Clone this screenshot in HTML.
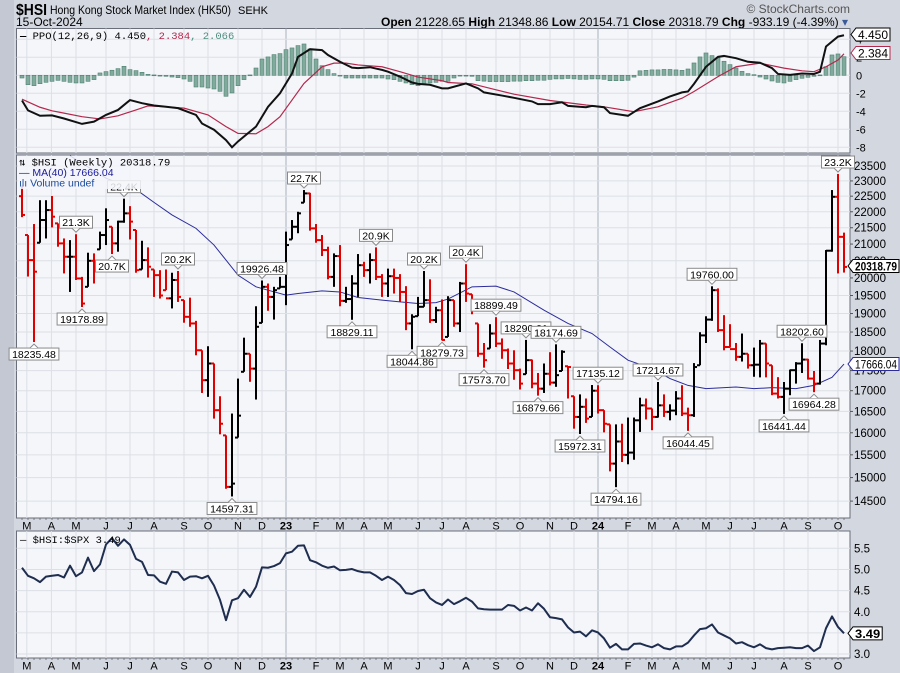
<!DOCTYPE html>
<html><head><meta charset="utf-8">
<style>
html,body{margin:0;padding:0;background:#d3d7e0;}
svg{display:block;font-family:"Liberation Sans",sans-serif;}
.mono{font-family:"Liberation Mono","DejaVu Sans Mono",monospace;}
</style></head>
<body>
<svg id="chart" width="900" height="673" viewBox="0 0 900 673" xmlns="http://www.w3.org/2000/svg">
  <rect x="0" y="0" width="900" height="673" fill="#d3d7e0"/>
  <rect x="0" y="0" width="14" height="673" fill="#c3c8d3"/>
  <g>
    <text x="16" y="15" font-size="16" font-weight="bold" textLength="31" lengthAdjust="spacingAndGlyphs" fill="#000">$HSI</text>
    <text x="50" y="14" font-size="12" textLength="181" lengthAdjust="spacingAndGlyphs" fill="#000">Hong Kong Stock Market Index (HK50)</text>
    <text x="238" y="14" font-size="11" fill="#000">SEHK</text>
    <text x="16" y="26" font-size="12" fill="#000">15-Oct-2024</text>
    <text x="848" y="26" font-size="12" text-anchor="end" fill="#000"><tspan font-weight="bold">Open</tspan> 21228.65 <tspan font-weight="bold">High</tspan> 21348.86 <tspan font-weight="bold">Low</tspan> 20154.71 <tspan font-weight="bold">Close</tspan> 20318.79 <tspan font-weight="bold">Chg</tspan> -933.19 (-4.39%) <tspan fill="#3a5a9a">▾</tspan></text>
    <text x="850" y="13" font-size="12" text-anchor="end" fill="#555">© StockCharts.com</text>
  </g>
  <g id="ppoPanel"></g>
  <g id="pricePanel"></g>
  <g id="ratioPanel"></g>
  <g id="axes"></g>
</svg>
<script>
// ---------- DATA ----------
const highs = [22850,21275,21615,22370,22370,22505,21635,21170,21120,21300,
20030,20740,20720,21380,22110,21530,21720,22420,22180,21430,
21100,20900,20245,20225,20245,20150,20200,19370,19440,18800,
18020,18125,17680,16865,15940,16450,17300,18350,17930,19200,
19926,19840,19745,20030,21380,21740,22000,22700,22610,21615,
21275,20920,20720,20970,19745,20080,20700,20470,20720,20900,
20110,20270,20270,20110,19764,18980,19460,20200,19960,19185,
19390,19480,
19370,19885,20400,19535,18730,18210,18710,18900,18330,18065,
18020,17550,18291,17780,17440,17680,17970,18175,18020,17610,
16865,16910,16810,17140,17135,16530,16195,16195,16210,16355,
16355,16830,16810,16570,17215,16910,16670,16990,17135,16590,
17690,18495,18925,19760,19700,18955,18710,18210,18460,17930,
18090,18290,18200,17635,17335,17215,17525,17715,18203,17800,
17490,18290,20820,22700,23230,21349];
const lows = [21830,20040,18235,21040,21170,21510,20920,20130,19600,19940,
19179,19745,19840,20840,20970,20700,20770,21655,21140,20150,
20245,20010,19460,19415,19650,19140,19320,18750,18640,17890,
16945,16850,16330,15965,14760,14597,15890,17470,17220,16785,
18745,19075,18835,19700,19230,21140,21330,22290,21410,21040,
20640,19960,19745,19200,19295,18829,19460,20030,19840,19940,
19460,19460,19555,19320,18550,18045,18927,19185,18745,18745,
18280,18370,
18640,18500,19320,18980,17850,17574,18065,18105,17800,17540,
17270,17030,17410,17060,16880,16945,17130,17095,17490,16810,
16095,15972,16230,16370,16450,16010,15135,14794,15340,15290,
15390,16020,16310,16060,16355,16370,16290,16410,16390,16044,
16370,17635,18210,18800,18500,18020,18090,17750,17730,17550,
17345,17330,17330,16890,16810,16441,16890,17175,17440,17275,
16964,17150,18150,20770,20130,20155];
const closes = [21900,20520,20180,21740,22055,21845,21020,20620,20620,19985,
19275,20500,20200,21275,21740,21020,21690,21950,21690,20225,
20520,20325,20080,19500,19420,19940,19460,18910,18730,18020,
17260,17680,16530,16210,14800,14870,16400,17930,17550,18640,
19745,19460,19650,19745,20970,21530,21950,22590,21480,21120,
20820,20030,20640,19350,19400,19840,20370,20225,20520,20030,
19840,20050,20000,19600,18730,18910,19185,19370,18820,19090,
18290,19370,
18730,19840,19555,19090,17930,17765,18460,18195,18020,17680,
17510,17175,17765,17175,17050,17420,17200,17385,17980,17590,
16370,16610,16330,17000,16530,16210,15305,15800,15500,15550,
16290,16645,16570,16370,16645,16490,16520,16810,16450,16410,
17590,18410,18835,19650,18550,18105,18050,17850,17930,17635,
17650,18195,17680,16930,16850,17050,17510,17680,17780,17300,
17175,18195,20800,22480,21220,20318.79];
const firstPrevClose = 22500;

const maIdx = [8,14,19,22,25,29,32,34,36,39,41,44,46,50,53,56,60,63,66,69,71,75,79,82,87,91,95,98,101,105,108,111,114,119,122,125,129,132,135,137];
const maVals = [23850,23090,22720,22300,21900,21480,20970,20520,20080,19745,19650,19510,19555,19630,19600,19445,19370,19320,19275,19300,19400,19745,19764,19600,19090,18730,18460,18105,17765,17550,17300,17130,17050,17090,17050,17075,17050,17130,17330,17666.04];

const labelIdx = [9,10,2,15,17,26,35,40,47,55,59,65,67,70,74,77,79,84,86,89,93,96,99,106,111,115,127,130,132,136];
const labelText = ["21.3K","19178.89","18235.48","20.7K","22.4K","20.2K","14597.31","19926.48","22.7K","18829.11","20.9K","18044.86","20.2K","18279.73","20.4K","17573.70","18899.49","18290.91","16879.66","18174.69","15972.31","17135.12","14794.16","17214.67","16044.45","19760.00","16441.44","18202.60","16964.28","23.2K"];
const labelSide = ["up","down","down","down","up","up","down","up","up","down","up","down","up","down","up","down","up","up","down","up","down","up","down","up","down","up","down","up","down","up"];

const priceTicks = [14500,15000,15500,16000,16500,17000,17500,18000,18500,19000,19500,20000,20500,21000,21500,22000,22500,23000,23500];

const ppoHist = [-0.30,-1.04,-1.15,-0.93,-0.78,-0.67,-0.56,-0.67,-0.78,-0.85,-0.85,-0.67,-0.48,
0.26,0.41,0.56,0.74,1.00,0.63,0.52,0.33,
0.11,0.04,-0.04,-0.11,-0.19,-0.26,
-0.41,-0.67,-1.30,-1.30,-1.41,-1.52,-1.78,-2.33,-1.96,-1.15,-0.48,
0.04,0.81,1.81,2.04,2.30,2.41,2.85,3.04,3.30,3.48,2.93,1.81,1.07,0.63,0.19,-0.04,
-0.30,-0.30,-0.30,-0.30,-0.30,-0.30,-0.30,-0.41,-0.48,-0.67,-0.85,-1.04,-1.15,-1.04,-0.85,-0.78,-0.67,-0.67,
-0.30,-0.04,-0.04,-0.11,-0.60,-0.65,-0.70,-0.70,-0.70,-0.70,-0.65,-0.65,-0.60,-0.60,-0.55,-0.55,
-0.45,-0.40,-0.40,-0.35,-0.40,-0.45,-0.45,-0.40,-0.40,-0.45,
-0.60,-0.60,-0.60,-0.55,-0.20,
0.50,0.55,0.60,0.60,0.65,0.65,0.60,0.55,0.70,
1.37,2.04,2.48,2.19,1.93,1.56,1.19,0.81,0.44,0.19,0.07,-0.19,-0.41,-0.63,-0.78,-0.85,-0.67,-0.48,-0.33,-0.22,-0.11,0.04,0.96,2.26,2.37,2.066];

const ppoIdx = [0,1,3,5,7,10,12,14,16,18,20,22,24,26,29,30,32,34,35,36,39,41,43,45,46,48,50,51,53,55,56,58,60,61,63,65,66,68,70,71,74,76,77,80,82,85,86,88,90,91,94,95,97,98,101,103,106,108,110,111,112,114,116,117,119,121,123,125,126,128,130,132,133,134,136,137];
const ppoVals = [-2.8,-3.9,-4.5,-4.45,-4.8,-5.4,-5.15,-4.4,-3.85,-2.75,-3.1,-3.35,-3.5,-3.65,-4.4,-5.35,-6.05,-7.2,-8.0,-7.35,-5.7,-3.5,-2.0,0.2,2.05,2.9,2.8,2.25,1.5,0.85,0.8,0.9,0.6,0.4,-0.15,-0.8,-0.95,-1.05,-1.45,-1.45,-0.9,-1.45,-1.9,-2.25,-2.5,-2.9,-3.2,-3.2,-3.0,-3.4,-3.55,-3.4,-3.55,-4.2,-4.5,-3.65,-2.9,-2.35,-1.9,-1.8,-0.95,0.95,2.05,2.15,1.9,1.5,1.4,0.8,0.15,0.05,0.2,0.15,0.4,3.2,4.3,4.45];
const sigIdx = [0,3,5,7,10,13,16,19,21,24,27,31,34,36,39,41,43,45,47,50,52,54,56,60,63,66,70,71,75,78,82,88,94,97,102,106,110,112,116,119,123,127,130,132,134,136,137];
const sigVals = [-2.65,-3.55,-3.95,-4.2,-4.6,-4.85,-4.5,-3.85,-3.4,-3.5,-3.65,-4.4,-5.7,-6.45,-6.5,-5.7,-4.6,-2.75,-0.9,0.95,1.35,1.35,1.15,0.95,0.4,-0.2,-0.6,-0.8,-0.95,-1.45,-2.1,-2.8,-3.3,-3.5,-4.05,-3.5,-2.55,-1.8,-0.15,0.95,1.35,0.8,0.5,0.4,0.95,1.7,2.384];
const ppoTicks = [4,2,0,-2,-4,-6,-8];

const ratioVals = [5.04,4.85,4.79,4.70,4.83,4.85,4.87,4.81,5.09,4.84,
4.93,5.28,4.96,5.12,5.59,5.74,5.56,5.71,5.58,5.25,
5.18,4.87,4.86,4.71,4.66,4.95,4.93,4.75,4.83,4.84,
4.79,4.85,4.62,4.28,3.80,4.27,4.32,4.52,4.35,4.59,
5.05,5.04,5.08,5.15,5.38,5.42,5.56,5.57,5.22,5.17,
5.09,5.04,5.07,4.98,4.99,5.01,4.96,4.93,4.93,4.85,
4.75,4.83,4.75,4.63,4.44,4.42,4.49,4.52,4.32,4.22,
4.16,4.29,
4.18,4.25,4.33,4.24,4.08,4.06,4.05,4.05,4.05,4.16,
4.14,4.03,4.10,4.03,4.20,4.07,3.87,3.85,3.82,3.63,
3.51,3.53,3.42,3.56,3.51,3.37,3.15,3.24,3.11,3.11,
3.24,3.25,3.20,3.16,3.23,3.14,3.11,3.18,3.18,3.27,
3.44,3.59,3.61,3.70,3.51,3.44,3.37,3.25,3.28,3.21,
3.16,3.23,3.14,3.11,3.14,3.15,3.16,3.14,3.14,3.20,
3.07,3.16,3.61,3.89,3.64,3.49];
const ratioTicks = [3.0,3.5,4.0,4.5,5.0,5.5];
const ratioTickLabels = ["3.0","3.5","4.0","4.5","5.0","5.5"];

const monthLabels = ["M","A","M","J","J","A","S","O","N","D","23","F","M","A","M","J","J","A","S","O","N","D","24","F","M","A","M","J","J","A","S","O"];
const monthBarIdx = [0.8,4.9,9,14,18,22,27,31,36,40,44,49,53,57,61,66,70,74,79,83,88,92,96,101,105,109,114,118,122,127,131,136];

// ---------- SCALES ----------
const L = 16.5, R = 850;
const xOf = i => 22 + i * 6.0;
const yP = p => 166 + 694 * Math.log(23500 / p);
const yO = v => 75.3 - 9 * v;
const yR = r => 548.3 + (5.5 - r) * 42.3;
const NS = "http://www.w3.org/2000/svg";
function mk(parent, tag, attrs, text) {
  const e = document.createElementNS(NS, tag);
  for (const k in attrs) e.setAttribute(k, attrs[k]);
  if (text !== undefined) e.textContent = text;
  parent.appendChild(e);
  return e;
}
const monthX = monthBarIdx.map(xOf);

function panel(g, top, bottom, name) {
  const r = mk(g, "rect", {x: L, y: top, width: R - L, height: bottom - top, fill: "#f4f6fa", stroke: "#6a6e78", "stroke-width": 1});
  
  
  monthX.forEach((x, k) => {
    const ln = mk(g, "line", {x1: x, x2: x, y1: top, y2: bottom, stroke: monthLabels[k].length > 1 ? "#aab0bc" : "#dcdfe5", "stroke-width": 1});
    
    
  });
}
function valueBox(g, x, y, text, color, bold, name) {
  const w = Math.min(text.length * (bold ? 6.3 : 6.0) + 4, 900 - x - 6);
  const p = mk(g, "path", {d: `M${x} ${y} L${x + 5} ${y - 6.5} L${x + 5 + w} ${y - 6.5} L${x + 5 + w} ${y + 6.5} L${x + 5} ${y + 6.5} Z`, fill: "#fff", stroke: color, "stroke-width": 1});
  
  
  const t = mk(g, "text", {x: x + 7, y: y + 4.5, "font-size": 11.5, "font-weight": bold ? "bold" : "normal", fill: "#000", textLength: w - 4, lengthAdjust: "spacingAndGlyphs"}, text);
  
  
}

// ---------- PPO PANEL ----------
(function () {
  const g = document.getElementById("ppoPanel");
  const top = 28.5, bottom = 153;
  panel(g, top, bottom, 'ppo-panel');
  ppoTicks.forEach(v => {
    const ln = mk(g, "line", {x1: L, x2: R, y1: yO(v), y2: yO(v), stroke: "#dcdfe5"});
    
    
    const t = mk(g, "text", {x: 856, y: yO(v) + 4, "font-size": 11, fill: "#000"}, String(v));
    
    
  });
  ppoHist.forEach((v, i) => {
    const y0 = yO(0), y1 = yO(v);
    const h = Math.max(Math.abs(y1 - y0), 0.8);
    const b = mk(g, "rect", {x: xOf(i) - 2, y: Math.min(y0, y1), width: 4, height: h, fill: "#80ab9c", stroke: "#4f7f70", "stroke-width": 0.6});
    
    
  });
  const sig = mk(g, "polyline", {points: sigIdx.map((ix, k) => xOf(ix) + "," + yO(sigVals[k])).join(" "), fill: "none", stroke: "#b4284c", "stroke-width": 1.2});
  
  
  const ppo = mk(g, "polyline", {points: ppoIdx.map((ix, k) => xOf(ix) + "," + yO(ppoVals[k])).join(" "), fill: "none", stroke: "#111", "stroke-width": 2});
  
  
  const lg = mk(g, "text", {x: 20, y: 39, "font-size": 10.5, class: "mono", fill: "#000"});
  
  
  lg.innerHTML = '<tspan font-weight="bold">—</tspan> PPO(12,26,9) 4.450<tspan fill="#b4284c">, 2.384</tspan><tspan fill="#4f8f80">, 2.066</tspan>';
  valueBox(g, 851, 34.5, "4.450", "#000", false, 'ppo-value-label');
  valueBox(g, 851, 53, "2.384", "#b4284c", false, 'signal-value-label');
})();

// ---------- PRICE PANEL ----------
(function () {
  const g = document.getElementById("pricePanel");
  const top = 155, bottom = 518;
  panel(g, top, bottom, 'price-panel');
  priceTicks.forEach(p => {
    const y = yP(p);
    const ln = mk(g, "line", {x1: L, x2: R, y1: y, y2: y, stroke: "#dcdfe5"});
    
    
    const tk = mk(g, "line", {x1: R, x2: R + 3, y1: y, y2: y, stroke: "#555"});
    
    
    const t = mk(g, "text", {x: 854, y: y + 4, "font-size": 11.5, fill: "#000"}, String(p));
    
    
  });
  const clip = mk(g, "clipPath", {id: "priceClip"});
  mk(clip, "rect", {x: L, y: top, width: R - L, height: bottom - top});
  const ma = mk(g, "polyline", {points: maIdx.map((ix, k) => xOf(ix) + "," + yP(maVals[k])).join(" "), fill: "none", stroke: "#2c2c9c", "stroke-width": 1, "clip-path": "url(#priceClip)"});
  
  
  closes.forEach((c, i) => {
    const prev = i === 0 ? firstPrevClose : closes[i - 1];
    const col = c < prev ? "#e00000" : "#000";
    const x = xOf(i);
    const bg = mk(g, "g", {stroke: col, "stroke-width": 2});
    
    
    mk(bg, "line", {x1: x, x2: x, y1: yP(highs[i]), y2: yP(lows[i])});
    const o = Math.min(Math.max(prev, lows[i]), highs[i]);
    mk(bg, "line", {x1: x - 3, x2: x, y1: yP(o), y2: yP(o)});
    mk(bg, "line", {x1: x, x2: x + 3, y1: yP(c), y2: yP(c)});
  });
  labelIdx.forEach((ix, k) => {
    const x = xOf(ix);
    const up = labelSide[k] === "up";
    const yv = up ? yP(highs[ix]) - 2 : yP(lows[ix]) + 2;
    const txt = labelText[k];
    const w = txt.length * 5.6 + 5;
    const by = up ? yv - 4 - 12 : yv + 4;
    const lg = mk(g, "g", {});
    
    
    mk(lg, "rect", {x: x - w / 2, y: by, width: w, height: 12, fill: "#fff", stroke: "#8a8a8a", "stroke-width": 1});
    const ty = up ? by + 12 : by;
    mk(lg, "path", {d: `M${x - 4} ${ty} L${x} ${yv} L${x + 4} ${ty}`, fill: "#fff", stroke: "#8a8a8a", "stroke-width": 1});
    mk(lg, "text", {x: x, y: by + 10, "font-size": 10.5, "text-anchor": "middle", fill: "#000"}, txt);
  });
  const leg = mk(g, "g", {});
  
  
  mk(leg, "rect", {x: 18, y: 156, width: 134, height: 33, fill: "#f4f6fa", opacity: 0.85});
  mk(leg, "text", {x: 19, y: 165.5, "font-size": 10.5, class: "mono", fill: "#000"}, "⇅ $HSI (Weekly) 20318.79");
  mk(leg, "text", {x: 19, y: 176, "font-size": 10.5, fill: "#1a1a9a"}, "— MA(40) 17666.04");
  mk(leg, "text", {x: 19, y: 186.5, "font-size": 10.5, fill: "#1a4a9a"}, "ılı Volume undef");
  valueBox(g, 848, yP(closes[closes.length - 1]) - 1, "20318.79", "#000", true, 'last-price-label');
  valueBox(g, 848, yP(maVals[maVals.length - 1]), "17666.04", "#2c2c9c", false, 'ma-value-label');
})();

// ---------- RATIO PANEL ----------
(function () {
  const g = document.getElementById("ratioPanel");
  const top = 531, bottom = 658;
  panel(g, top, bottom, 'ratio-panel');
  ratioTicks.forEach((r, k) => {
    const ln = mk(g, "line", {x1: L, x2: R, y1: yR(r), y2: yR(r), stroke: "#dcdfe5"});
    
    
    const t = mk(g, "text", {x: 854, y: yR(r) + 4, "font-size": 11.5, fill: "#000"}, ratioTickLabels[k]);
    
    
  });
  const ln = mk(g, "polyline", {points: ratioVals.map((r, i) => xOf(i) + "," + yR(r)).join(" "), fill: "none", stroke: "#1f2d4f", "stroke-width": 2, "stroke-linejoin": "round"});
  
  
  const lg = mk(g, "text", {x: 20, y: 543, "font-size": 10.5, class: "mono", fill: "#000"}, "— $HSI:$SPX 3.49");
  
  
  valueBox(g, 848, yR(ratioVals[ratioVals.length - 1]), "3.49", "#000", true, 'ratio-value-label');
})();

// ---------- X AXES ----------
(function () {
  const g = document.getElementById("axes");
  [525.5, 665.5].forEach((yy, a) => {
    closes.forEach((c, i) => {
      const t = mk(g, "line", {x1: xOf(i), x2: xOf(i), y1: a === 0 ? 518 : 658, y2: (a === 0 ? 518 : 658) + 2, stroke: "#666", "stroke-width": 0.8});
      
      
    });
    monthLabels.forEach((m, k) => {
      const t = mk(g, "text", {x: monthX[k], y: yy + 4, "font-size": 11, "font-weight": m.length > 1 ? "bold" : "normal", "text-anchor": "middle", fill: "#000"}, m);
      
      
    });
  });
})();
</script>
</body></html>
